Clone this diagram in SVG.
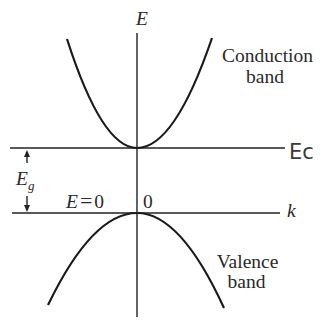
<svg xmlns="http://www.w3.org/2000/svg" width="332" height="320" viewBox="0 0 332 320">
<style>
.ax{stroke:#222;stroke-width:1.4;fill:none}
.band{stroke:#1a1a1a;stroke-width:2.2;fill:none}
.head{fill:#222}
.lbl{font-family:"Liberation Serif","DejaVu Serif",serif;font-size:19.5px;fill:#2a2a2a}
.it{font-style:italic}
</style>
<rect width="332" height="320" fill="#fff"/>
<g id="connectors">
<line class="ax" x1="137" y1="33" x2="137" y2="317"/>
<line class="ax" x1="10" y1="148" x2="285" y2="148"/>
<line class="ax" x1="12" y1="213" x2="280" y2="213"/>
<line class="ax" x1="27" y1="154" x2="27" y2="163"/>
<polygon class="head" points="27,150 24,157 30,157"/>
<line class="ax" x1="27" y1="196" x2="27" y2="207"/>
<polygon class="head" points="27,212 24,205 30,205"/>
</g>
<g id="conduction-band">
<path class="band" d="M67,39 Q102,148 137,148 Q174.5,148 212,38"/>
<text class="lbl" x="267.5" y="62" text-anchor="middle">Conduction</text>
<text class="lbl" x="265" y="83" text-anchor="middle">band</text>
</g>
<g id="valence-band">
<path class="band" d="M48,305 Q92.5,213 137,213 Q180.5,213 224,308"/>
<text class="lbl" x="247.5" y="268" text-anchor="middle">Valence</text>
<text class="lbl" x="246.5" y="288" text-anchor="middle">band</text>
</g>
<g id="labels">
<text class="lbl it" x="142" y="25" text-anchor="middle" font-size="18">E</text>
<text class="lbl it" x="287" y="217" font-size="18">k</text>
<text class="lbl" x="66" y="208" font-size="19"><tspan class="it">E</tspan><tspan dx="2" font-size="22">=</tspan><tspan dx="2">0</tspan></text>
<text class="lbl" x="143" y="208" font-size="19">0</text>
<text class="lbl it" x="16" y="185" font-size="18">E<tspan font-size="13" dy="5">g</tspan></text>
<text x="289" y="159" style="font-family:'DejaVu Sans','Liberation Sans',sans-serif;font-size:21px;fill:#3a3a3a">Ec</text>
</g>
</svg>
